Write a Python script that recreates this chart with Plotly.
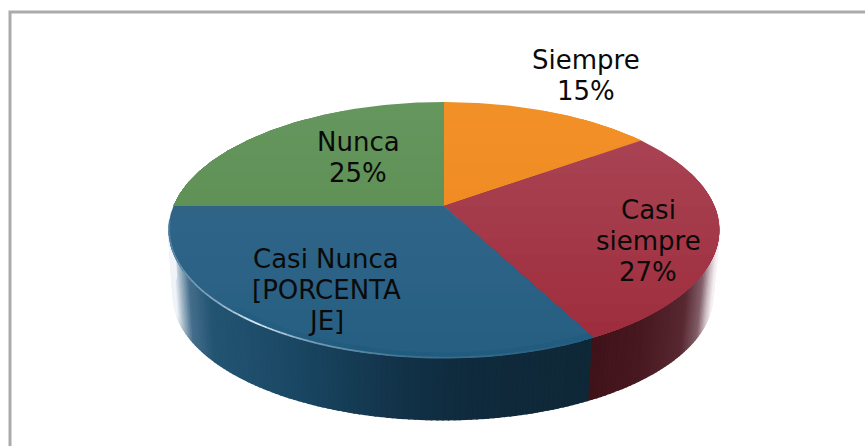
import numpy as np
import plotly.graph_objects as go

# ---- data ----
categories = ["Siempre", "Casi siempre", "Casi Nunca", "Nunca"]
values = [15, 27.4, 32.6, 25]
label_lines = [["Siempre", "15%"], ["Casi", "siempre", "27%"],
               ["Casi Nunca", "[PORCENTA", "JE]"], ["Nunca", "25%"]]

# ---- style / layout ----
W, H = 865, 446
label_xy = [(586, 75), (648, 241), (326, 290), (358, 157)]
LINE_GAP = 31
top_cols = {  # colour at upper and lower end of each slice
    "Siempre": ((242, 144, 40), (241, 140, 36)),
    "Casi siempre": ((168, 66, 82), (158, 46, 62)),
    "Casi Nunca": ((47, 100, 135), (38, 95, 130)),
    "Nunca": ((101, 150, 93), (96, 146, 88)),
}
CX, CY = 444.0, 206.0     # where the slices meet
A, B, K = 270.5, 123.5, 0.1875   # projected disk
CX2, CY2 = 443.0, 272.0   # the base disk
A2, B2 = 265.0, 120.0
blue_stops = [(172, (240, 244, 248)), (178, (170, 190, 205)), (188, (70, 110, 140)),
              (210, (35, 85, 115)), (300, (25, 70, 98)), (400, (18, 50, 72)),
              (470, (15, 42, 60)), (600, (15, 40, 55))]
red_stops = [(585, (62, 18, 24)), (640, (72, 24, 32)), (685, (88, 40, 50)),
             (702, (130, 95, 105)), (710, (205, 190, 195)), (716, (245, 240, 242))]


def project(theta, r=1.0, cx=CX, cy=CY, a=A, b=B):
    """theta in radians clockwise from the top of the disk, r as fraction of the radius."""
    X, Y = r * np.sin(theta), r * np.cos(theta)
    d = 1 + K * Y
    return cx + a * X / d, cy - b * Y / d


def mix(stops, x):
    xs = [s[0] for s in stops]
    return tuple(int(round(float(np.interp(x, xs, [s[1][i] for s in stops])))) for i in range(3))


def rgb(c):
    return f"rgb({c[0]},{c[1]},{c[2]})"


def clip_below(pts, limit):
    """keep the part of a convex polygon with y >= limit"""
    out = []
    n = len(pts)
    for i in range(n):
        p, q = pts[i], pts[(i + 1) % n]
        ip, iq = p[1] >= limit, q[1] >= limit
        if ip:
            out.append(p)
        if ip != iq:
            t = (limit - p[1]) / (q[1] - p[1])
            out.append((p[0] + t * (q[0] - p[0]), limit))
    return out


fig = go.Figure()


def add_poly(pts, color, lw=1.0, line_color=None):
    xs = [p[0] for p in pts] + [pts[0][0]]
    ys = [p[1] for p in pts] + [pts[0][1]]
    fig.add_trace(go.Scatter(x=xs, y=ys, mode="lines", fill="toself", fillcolor=color,
                             line=dict(color=line_color or color, width=lw),
                             hoverinfo="skip", showlegend=False))


fractions = np.cumsum([0] + values) / sum(values)
edges = 2 * np.pi * fractions
red_end = edges[2]

# side wall: drawn first, the top face covers what is behind it
wall = np.radians(np.arange(92, 268.01, 1.0))
for t0, t1 in zip(wall[:-1], wall[1:]):
    tm = (t0 + t1) / 2
    x0, y0 = project(t0)
    x1, y1 = project(t1)
    x2, y2 = project(t1, cx=CX2, cy=CY2, a=A2, b=B2)
    x3, y3 = project(t0, cx=CX2, cy=CY2, a=A2, b=B2)
    xm = (x0 + x1) / 2
    col = mix(red_stops, xm) if tm < red_end else mix(blue_stops, xm)
    add_poly([(x0, y0), (x1, y1), (x2, y2), (x3, y3)], rgb(col), 1.6)

# top face: each slice repainted from successive heights for its soft gradient
for i, name in enumerate(categories):
    th = np.linspace(edges[i], edges[i + 1], 120)
    px, py = project(th)
    poly = [(CX, CY)] + list(zip(px.tolist(), py.tolist()))
    ymin, ymax = min(p[1] for p in poly), max(p[1] for p in poly)
    bands = np.linspace(ymin, ymax, 13)
    c0, c1 = top_cols[name]
    for j in range(12):
        part = clip_below(poly, bands[j]) if j else poly
        if len(part) < 3:
            continue
        f = j / 11
        col = tuple(int(round(c0[k] + f * (c1[k] - c0[k]))) for k in range(3))
        add_poly(part, rgb(col), 0)

# soft bevel along the front of the blue slice
bev = np.linspace(red_end, np.radians(222), 80)
ox, oy = project(bev, r=1.0)
ix, iy = project(bev[::-1], r=0.97)
add_poly(list(zip(ox.tolist() + ix.tolist(), oy.tolist() + iy.tolist())),
         "rgba(20,85,120,0.25)", 0, "rgba(0,0,0,0)")

# lit rim of the top face
rim = np.radians(np.arange(155, 264, 1.5))
for t0, t1 in zip(rim[:-1], rim[1:]):
    tm = np.degrees((t0 + t1) / 2)
    glow = float(np.interp(tm, [155, 185, 205, 216, 228, 250, 264], [0.0, 0.12, 0.45, 0.98, 0.5, 0.28, 0.15]))
    base = np.array((38, 95, 130))
    col = tuple((base + glow * (np.array((225, 240, 248)) - base)).astype(int).tolist())
    rx, ry = project(np.array([t0, t1]), r=0.998)
    fig.add_trace(go.Scatter(x=rx, y=ry, mode="lines", line=dict(color=rgb(col), width=1.8),
                             hoverinfo="skip", showlegend=False))

# labels, line by line so the spacing stays tight
for lines, (lx, ly) in zip(label_lines, label_xy):
    first = ly - LINE_GAP * (len(lines) - 1) / 2
    for n, line in enumerate(lines):
        fig.add_annotation(x=lx, y=first + n * LINE_GAP, text=line, showarrow=False,
                           xref="x", yref="y", align="center",
                           font=dict(family="DejaVu Sans, Verdana, sans-serif", size=26, color="#0a0a0a"))

# outer frame, cut off by the right and bottom of the picture
frame = dict(type="path", path=f"M 10 {H + 5} L 10 12 L {W + 5} 12",
             line=dict(color="#ababab", width=3), xref="x", yref="y")

fig.update_layout(
    width=W, height=H, margin=dict(l=0, r=0, t=0, b=0),
    paper_bgcolor="white", plot_bgcolor="white", showlegend=False,
    xaxis=dict(range=[0, W], visible=False, fixedrange=True),
    yaxis=dict(range=[H, 0], visible=False, fixedrange=True),
    shapes=[frame],
)
fig.write_html("out.html", config={"displayModeBar": False},
               post_script="document.body.style.margin='0';document.body.style.overflow='hidden';")
